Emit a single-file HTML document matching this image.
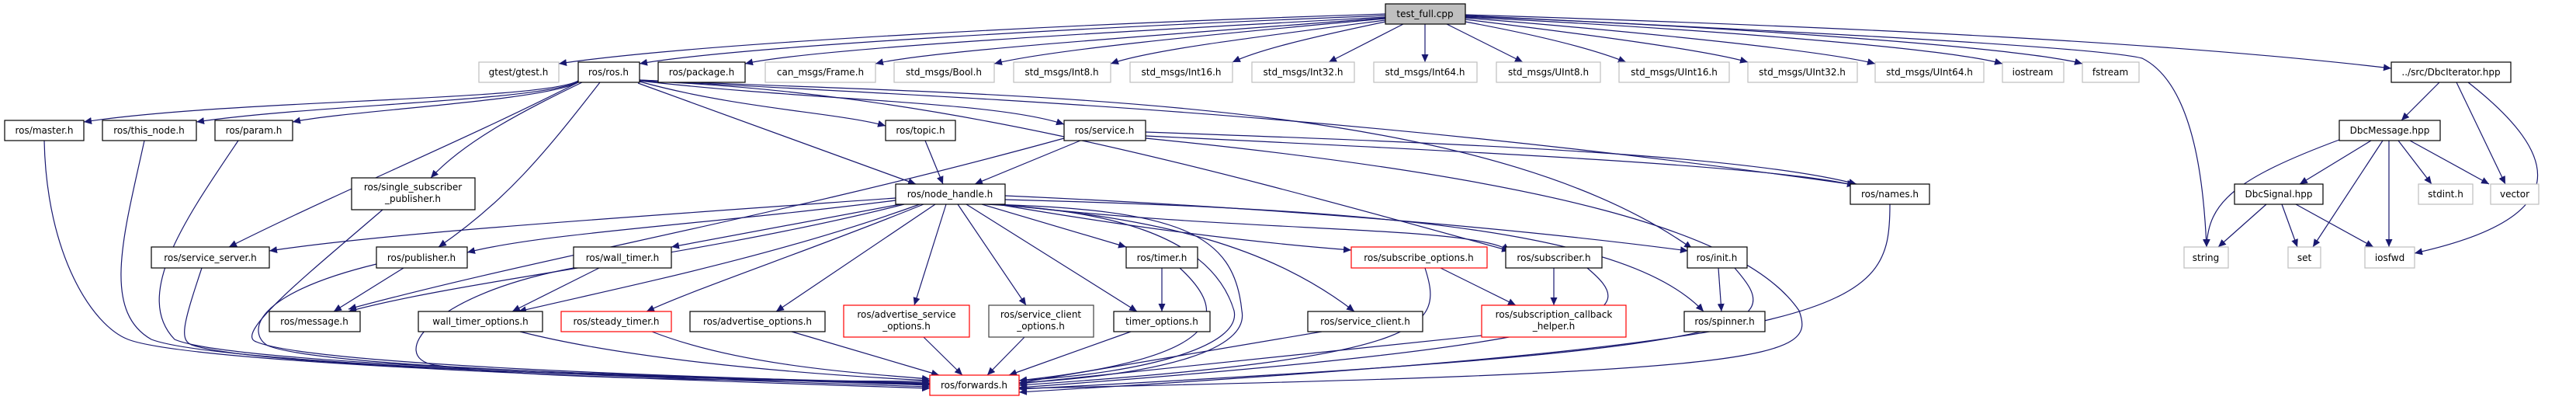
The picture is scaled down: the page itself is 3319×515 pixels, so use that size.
<!DOCTYPE html>
<html><head><meta charset="utf-8"><style>
html,body{margin:0;padding:0;background:#fff;}
svg{display:block;}
text{font-family:"DejaVu Sans","Liberation Sans",sans-serif;font-size:12px;fill:#000;text-anchor:middle;}
.e{fill:none;stroke:#191970;stroke-width:1.2;marker-end:url(#a);}
.n{fill:#fff;stroke:#000;stroke-width:1.2;}
.g{fill:#fff;stroke:#bfbfbf;stroke-width:1.2;}
.r{fill:#fff;stroke:#ff0000;stroke-width:1.2;}
.d{fill:#fff;stroke:#404040;stroke-width:1.2;}
</style></head><body>
<svg width="3319" height="515" viewBox="0 0 3319 515" xmlns="http://www.w3.org/2000/svg">
<defs><marker id="a" markerUnits="userSpaceOnUse" markerWidth="11" markerHeight="9" refX="10" refY="4.5" orient="auto"><path d="M0,0 L10,4.5 L0,9 z" fill="#191970"/></marker></defs>
<g>
<!-- test_full edges -->
<path class="e" d="M1785,18 C1400,30 900,55 720,82"/>
<path class="e" d="M1785,20 C1400,35 950,60 824,82"/>
<path class="e" d="M1785,22 C1450,40 1050,62 960,82"/>
<path class="e" d="M1785,23 C1500,45 1200,65 1128,82"/>
<path class="e" d="M1785,24 C1550,45 1350,65 1281,82"/>
<path class="e" d="M1785,26 C1600,50 1480,65 1431,82"/>
<path class="e" d="M1785,28 C1680,50 1620,65 1588,80"/>
<path class="e" d="M1808,31 L1712,80"/>
<path class="e" d="M1836,31 L1836,80"/>
<path class="e" d="M1864,31 L1962,80"/>
<path class="e" d="M1888,28 C1980,45 2050,62 2095,80"/>
<path class="e" d="M1888,25 C2050,45 2200,65 2252,80"/>
<path class="e" d="M1888,23 C2100,40 2350,65 2416,82"/>
<path class="e" d="M1888,22 C2150,35 2500,60 2580,82"/>
<path class="e" d="M1888,21 C2200,33 2600,60 2683,82"/>
<path class="e" d="M1888,20 C2300,40 2700,60 2760,75 C2830,110 2840,250 2843,318"/>
<path class="e" d="M1888,19 C2400,35 2800,55 3081,88"/>
<!-- ros.h edges -->
<path class="e" d="M745,104 C700,130 300,128 108,157"/>
<path class="e" d="M745,105 C700,130 400,135 253,157"/>
<path class="e" d="M745,106 C700,130 450,142 377,157"/>
<path class="e" d="M750,106 C680,140 600,180 555,229"/>
<path class="e" d="M745,106 C600,180 430,250 295,318"/>
<path class="e" d="M773,106 C700,200 650,260 565,318"/>
<path class="e" d="M822,107 L1180,237"/>
<path class="e" d="M824,105 C950,140 1080,145 1141,162"/>
<path class="e" d="M824,104 C1050,130 1280,130 1371,160"/>
<path class="e" d="M824,104 C1200,120 1500,200 1945,323"/>
<path class="e" d="M824,103 C1300,125 1900,120 2180,320"/>
<path class="e" d="M824,103 C1200,125 1700,140 2390,238"/>
<!-- topic, service -->
<path class="e" d="M1192,181 L1215,237"/>
<path class="e" d="M1392,181 L1256,237"/>
<path class="e" d="M1476,170 C1900,185 2250,200 2392,237"/>
<path class="e" d="M1476,175 C1900,195 2300,215 2390,239"/>
<path class="e" d="M1371,178 C1000,280 700,330 449,398"/>
<path class="e" d="M1476,178 C2000,230 2250,300 2318,400 C2340,460 2300,480 1313,500"/>
<!-- node_handle edges -->
<path class="e" d="M1154,255 C800,280 500,300 347,323"/>
<path class="e" d="M1154,258 C900,290 700,300 602,325"/>
<path class="e" d="M1160,263 L865,318"/>
<path class="e" d="M1165,263 C900,330 600,360 449,401"/>
<path class="e" d="M1185,263 C1000,330 800,370 668,401"/>
<path class="e" d="M1190,263 C1050,320 900,370 833,401"/>
<path class="e" d="M1205,263 L1000,401"/>
<path class="e" d="M1219,263 L1178,393"/>
<path class="e" d="M1234,263 L1322,393"/>
<path class="e" d="M1245,263 L1465,401"/>
<path class="e" d="M1265,263 L1451,318"/>
<path class="e" d="M1270,263 C1420,270 1560,300 1590,400 C1600,445 1480,480 1313,490"/>
<path class="e" d="M1275,263 C1520,270 1590,300 1600,400 C1610,450 1500,482 1313,493"/>
<path class="e" d="M1278,263 C1500,280 1640,320 1745,401"/>
<path class="e" d="M1285,263 C1500,300 1650,315 1741,322"/>
<path class="e" d="M1290,263 C1600,300 1900,290 1945,323"/>
<path class="e" d="M1295,252 C1700,270 2000,300 2175,323"/>
<path class="e" d="M1295,257 C1800,270 2100,300 2195,401"/>
<!-- small edges -->
<path class="e" d="M520,345 L430,401"/>
<path class="e" d="M772,345 L660,401"/>
<path class="e" d="M1497,345 L1497,401"/>
<path class="e" d="M1856,345 L1953,393"/>
<path class="e" d="M2002,345 L2002,393"/>
<path class="e" d="M2214,345 L2218,401"/>
<!-- to forwards -->
<path class="e" d="M57,181 C60,330 120,420 165,437 C250,470 900,490 1198,500"/>
<path class="e" d="M186,181 C160,300 130,400 195,437 C280,470 900,488 1198,498"/>
<path class="e" d="M307,181 C240,280 170,380 225,437 C300,470 900,486 1198,496"/>
<path class="e" d="M493,270 C400,350 300,430 330,440 C400,470 900,486 1198,494"/>
<path class="e" d="M260,345 C235,420 230,440 250,445 C350,475 900,486 1198,495"/>
<path class="e" d="M485,340 C320,380 320,430 345,445 C420,475 900,486 1198,493"/>
<path class="e" d="M739,345 C550,380 500,460 560,470 C700,490 1000,490 1198,491"/>
<path class="e" d="M670,427 C800,460 1000,480 1198,490"/>
<path class="e" d="M840,427 C950,470 1100,480 1198,488"/>
<path class="e" d="M1020,427 L1210,483"/>
<path class="e" d="M1190,434 L1240,483"/>
<path class="e" d="M1320,434 L1272,483"/>
<path class="e" d="M1457,427 L1300,483"/>
<path class="e" d="M1520,345 C1580,400 1590,460 1313,490"/>
<path class="e" d="M1703,427 L1313,493"/>
<path class="e" d="M1836,345 C1860,420 1850,460 1313,496"/>
<path class="e" d="M1909,432 L1313,494"/>
<path class="e" d="M2045,345 C2110,400 2120,440 1313,499"/>
<path class="e" d="M2235,345 C2300,420 2300,450 1313,501"/>
<path class="e" d="M2435,263 C2435,400 2400,440 1313,505"/>
<!-- Dbc -->
<path class="e" d="M3143,106 L3094,155"/>
<path class="e" d="M3165,106 L3228,237"/>
<path class="e" d="M3180,106 C3300,200 3320,280 3111,326"/>
<path class="e" d="M3014,180 C2880,230 2845,260 2843,318"/>
<path class="e" d="M3055,181 L2963,237"/>
<path class="e" d="M3070,181 L2980,318"/>
<path class="e" d="M3078,181 L3078,318"/>
<path class="e" d="M3090,181 L3133,237"/>
<path class="e" d="M3105,181 L3207,237"/>
<path class="e" d="M2920,263 L2858,318"/>
<path class="e" d="M2940,263 L2960,318"/>
<path class="e" d="M2958,263 L3058,318"/>
</g>
<g>
<rect x="1785" y="5" width="103" height="26" fill="#bfbfbf" stroke="#000" stroke-width="1.2"/><text x="1836" y="22">test_full.cpp</text>
<rect class="g" x="617" y="80" width="103" height="26"/><text x="668" y="97">gtest/gtest.h</text>
<rect class="n" x="745" y="80" width="79" height="26"/><text x="784" y="97">ros/ros.h</text>
<rect class="n" x="848" y="80" width="112" height="26"/><text x="904" y="97">ros/package.h</text>
<rect class="g" x="986" y="80" width="142" height="26"/><text x="1057" y="97">can_msgs/Frame.h</text>
<rect class="g" x="1152" y="80" width="129" height="26"/><text x="1216" y="97">std_msgs/Bool.h</text>
<rect class="g" x="1306" y="80" width="125" height="26"/><text x="1368" y="97">std_msgs/Int8.h</text>
<rect class="g" x="1456" y="80" width="132" height="26"/><text x="1522" y="97">std_msgs/Int16.h</text>
<rect class="g" x="1613" y="80" width="132" height="26"/><text x="1679" y="97">std_msgs/Int32.h</text>
<rect class="g" x="1770" y="80" width="133" height="26"/><text x="1836" y="97">std_msgs/Int64.h</text>
<rect class="g" x="1928" y="80" width="134" height="26"/><text x="1995" y="97">std_msgs/UInt8.h</text>
<rect class="g" x="2086" y="80" width="142" height="26"/><text x="2157" y="97">std_msgs/UInt16.h</text>
<rect class="g" x="2252" y="80" width="141" height="26"/><text x="2322" y="97">std_msgs/UInt32.h</text>
<rect class="g" x="2416" y="80" width="140" height="26"/><text x="2486" y="97">std_msgs/UInt64.h</text>
<rect class="g" x="2580" y="80" width="79" height="26"/><text x="2619" y="97">iostream</text>
<rect class="g" x="2683" y="80" width="73" height="26"/><text x="2719" y="97">fstream</text>
<rect class="n" x="3081" y="80" width="154" height="26"/><text x="3158" y="97">../src/DbcIterator.hpp</text>
<rect class="n" x="6" y="155" width="102" height="26"/><text x="57" y="172">ros/master.h</text>
<rect class="n" x="132" y="155" width="121" height="26"/><text x="192" y="172">ros/this_node.h</text>
<rect class="n" x="277" y="155" width="100" height="26"/><text x="327" y="172">ros/param.h</text>
<rect class="n" x="1141" y="155" width="90" height="26"/><text x="1186" y="172">ros/topic.h</text>
<rect class="n" x="1371" y="155" width="105" height="26"/><text x="1423" y="172">ros/service.h</text>
<rect class="n" x="3014" y="155" width="130" height="26"/><text x="3079" y="172">DbcMessage.hpp</text>
<rect class="n" x="453" y="229" width="159" height="41"/><text x="532" y="245">ros/single_subscriber</text><text x="532" y="260">_publisher.h</text>
<rect class="n" x="1154" y="237" width="141" height="26"/><text x="1224" y="254">ros/node_handle.h</text>
<rect class="n" x="2384" y="237" width="102" height="26"/><text x="2435" y="254">ros/names.h</text>
<rect class="n" x="2879" y="237" width="114" height="26"/><text x="2936" y="254">DbcSignal.hpp</text>
<rect class="g" x="3116" y="237" width="70" height="26"/><text x="3151" y="254">stdint.h</text>
<rect class="g" x="3209" y="237" width="62" height="26"/><text x="3240" y="254">vector</text>
<rect class="n" x="195" y="318" width="152" height="27"/><text x="271" y="336">ros/service_server.h</text>
<rect class="n" x="485" y="318" width="117" height="27"/><text x="543" y="336">ros/publisher.h</text>
<rect class="n" x="739" y="318" width="126" height="27"/><text x="802" y="336">ros/wall_timer.h</text>
<rect class="n" x="1451" y="318" width="92" height="27"/><text x="1497" y="336">ros/timer.h</text>
<rect class="r" x="1741" y="318" width="175" height="27"/><text x="1828" y="336">ros/subscribe_options.h</text>
<rect class="n" x="1940" y="318" width="124" height="27"/><text x="2002" y="336">ros/subscriber.h</text>
<rect class="n" x="2174" y="318" width="77" height="27"/><text x="2212" y="336">ros/init.h</text>
<rect class="g" x="2814" y="318" width="57" height="27"/><text x="2842" y="336">string</text>
<rect class="g" x="2948" y="318" width="42" height="27"/><text x="2969" y="336">set</text>
<rect class="g" x="3047" y="318" width="64" height="27"/><text x="3079" y="336">iosfwd</text>
<rect class="n" x="347" y="401" width="117" height="26"/><text x="405" y="418">ros/message.h</text>
<rect class="n" x="539" y="401" width="160" height="26"/><text x="619" y="418">wall_timer_options.h</text>
<rect class="r" x="723" y="401" width="142" height="26"/><text x="794" y="418">ros/steady_timer.h</text>
<rect class="n" x="889" y="401" width="174" height="26"/><text x="976" y="418">ros/advertise_options.h</text>
<rect class="r" x="1087" y="393" width="162" height="41"/><text x="1168" y="409">ros/advertise_service</text><text x="1168" y="424">_options.h</text>
<rect class="d" x="1274" y="393" width="135" height="41"/><text x="1341" y="409">ros/service_client</text><text x="1341" y="424">_options.h</text>
<rect class="n" x="1435" y="401" width="124" height="26"/><text x="1497" y="418">timer_options.h</text>
<rect class="n" x="1685" y="401" width="148" height="26"/><text x="1759" y="418">ros/service_client.h</text>
<rect class="r" x="1909" y="393" width="186" height="41"/><text x="2002" y="409">ros/subscription_callback</text><text x="2002" y="424">_helper.h</text>
<rect class="n" x="2170" y="401" width="104" height="26"/><text x="2222" y="418">ros/spinner.h</text>
<rect class="r" x="1198" y="483" width="115" height="26"/><text x="1255" y="500">ros/forwards.h</text>
</g>
</svg>
</body></html>
